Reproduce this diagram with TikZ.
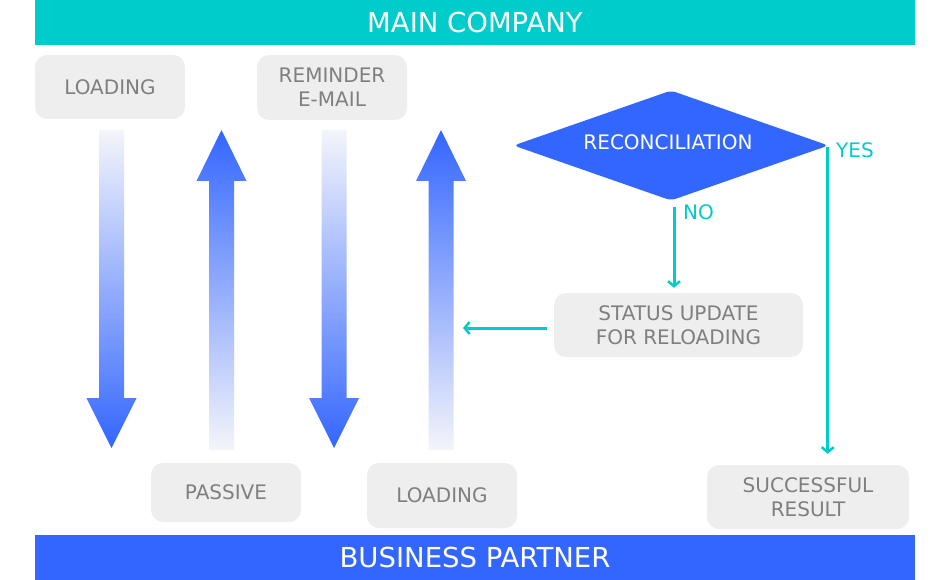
\documentclass[tikz,border=0pt]{standalone}
\usepackage{fontspec}
\setmainfont{DejaVu Sans}
\usetikzlibrary{shapes.geometric,arrows.meta}
\definecolor{teal}{HTML}{00CCCC}
\definecolor{mblue}{HTML}{3366FF}
\definecolor{pale}{HTML}{F4F5FA}
\definecolor{boxgray}{HTML}{EEEEEE}
\definecolor{txtgray}{HTML}{7F7F7F}
\tikzset{
  bar/.style={minimum width=880pt, minimum height=45pt, inner sep=0pt, text=white, font=\fontsize{27.5}{30}\selectfont},
  gbox/.style={fill=boxgray, rounded corners=12pt, inner sep=0pt, align=center, text=txtgray, font=\fontsize{20}{24}\selectfont},
  conn/.style={draw=teal, line width=3pt, -{Straight Barb[length=5pt,width=12pt,line width=2.5pt]}},
  lab/.style={text=teal, inner sep=0pt, anchor=west, font=\fontsize{20}{22}\selectfont},
}
\begin{document}
\begin{tikzpicture}[x=1pt,y=-1pt]
\useasboundingbox (0,0) rectangle (950,580);
% bars
\node[bar, fill=teal] (top) at (475,22.5) {MAIN COMPANY};
\node[bar, fill=mblue] (bottom) at (475,557.5) {BUSINESS PARTNER};
% boxes
\node[gbox, minimum width=150pt, minimum height=64pt] (load1) at (110,87) {LOADING};
\node[gbox, minimum width=150pt, minimum height=65pt] (remind) at (332,87.5) {REMINDER\\E-MAIL};
\node[gbox, minimum width=150pt, minimum height=59pt] (passive) at (226,492.5) {PASSIVE};
\node[gbox, minimum width=150pt, minimum height=65pt] (load2) at (442,495.5) {LOADING};
\node[gbox, minimum width=249pt, minimum height=64pt] (stat) at (678.5,325) {STATUS UPDATE\\FOR RELOADING};
\node[gbox, minimum width=202pt, minimum height=64pt] (succ) at (808,497) {SUCCESSFUL\\RESULT};
% gradient arrows
\foreach \c in {111.5,334}{
  \shade[top color=pale, bottom color=mblue]
    ({\c-12.5},130) -- ({\c+12.5},130) -- ({\c+12.5},398) -- ({\c+25},398) -- (\c,448) -- ({\c-25},398) -- ({\c-12.5},398) -- cycle;
}
\foreach \c in {221.5,441}{
  \shade[top color=mblue, bottom color=pale]
    (\c,130) -- ({\c+25},181) -- ({\c+12.5},181) -- ({\c+12.5},450) -- ({\c-12.5},450) -- ({\c-12.5},181) -- ({\c-25},181) -- cycle;
}
% decision
\node[diamond, fill=mblue, minimum width=315pt, minimum height=110pt, inner sep=0pt, rounded corners=5pt] (rec) at (671,145.5) {};
\node[text=white, inner sep=0pt, font=\fontsize{20}{22}\selectfont] (rect) at (668,142) {RECONCILIATION};
% connectors
\draw[conn, shorten >=11pt] ([xshift=-1pt,yshift=-1.5pt]rec.east) -- ([xshift=-1pt]rec.east |- succ.north);
\draw[conn, shorten >=5pt] ([xshift=3pt,yshift=-6pt]rec.south) -- ([xshift=3pt]rec.south |- stat.north);
\coordinate (a4r) at (463,328);
\draw[conn] ([xshift=-7pt,yshift=-3pt]stat.west) -- (a4r);
% labels
\node[lab] (yes) at (836,150) {YES};
\node[lab] (no) at (683,212) {NO};
\end{tikzpicture}
\end{document}
